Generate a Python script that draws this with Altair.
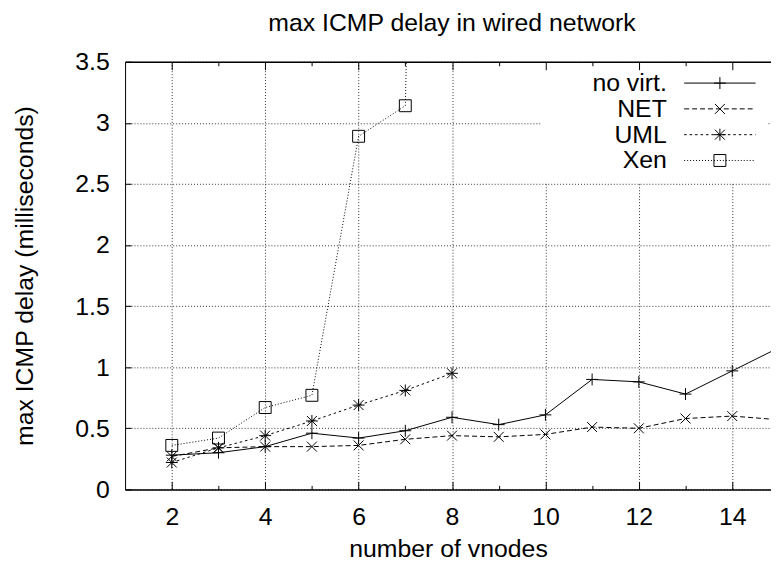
import altair as alt
import pandas as pd

# ---------------- data ----------------
series_names = ["no virt.", "NET", "UML", "Xen"]
vnodes_all = [2, 3, 4, 5, 6, 7, 8, 9, 10, 11, 12, 13, 14, 15]
no_virt = [0.28, 0.30, 0.35, 0.46, 0.42, 0.48, 0.59, 0.53, 0.61, 0.90, 0.88, 0.78, 0.97, 1.16]
net = [0.27, 0.34, 0.35, 0.35, 0.36, 0.41, 0.44, 0.43, 0.45, 0.51, 0.50, 0.58, 0.60, 0.57]
vnodes_virt = [2, 3, 4, 5, 6, 7, 8]
uml = [0.22, 0.34, 0.44, 0.56, 0.69, 0.81, 0.95]
xen = [0.36, 0.42, 0.67, 0.77, 2.89, 3.14, 20.0]

x_major_ticks = [2, 4, 6, 8, 10, 12, 14]
x_minor_ticks = [3, 5, 7, 9, 11, 13]
y_ticks = [0, 0.5, 1, 1.5, 2, 2.5, 3, 3.5]

rows = []
for name, xs, ys in [("no virt.", vnodes_all, no_virt), ("NET", vnodes_all, net),
                     ("UML", vnodes_virt, uml), ("Xen", vnodes_virt, xen)]:
    for a, b in zip(xs, ys):
        rows.append({"series": name, "vnodes": a, "delay": b})
df = pd.DataFrame(rows)

# ---------------- styles ----------------
FONT = "Liberation Sans"
FS = 25
W, H = 651, 431
PAD = {"left": 118, "top": 52, "right": 0, "bottom": 71}
XS = alt.Scale(domain=[1, 14.83], nice=False, zero=False)
YS = alt.Scale(domain=[0, 3.5], nice=False, zero=False)

dashes = {"no virt.": None, "NET": [5, 3], "UML": [2.5, 3], "Xen": [1, 2]}


def plus(cx=0):
    return f"M{cx-6},0H{cx+6}M{cx},-6V6"


def cross(cx=0):
    return f"M{cx-5},-5L{cx+5},5M{cx-5},5L{cx+5},-5"


def star(cx=0):
    return plus(cx) + cross(cx)


def square(cx=0):
    return f"M{cx-6},-6H{cx+6}V6H{cx-6}Z"


marker_fn = {"no virt.": plus, "NET": cross, "UML": star, "Xen": square}


def dash_path(dash, cx, half=36):
    if not dash:
        return f"M{cx-half},0H{cx+half}"
    d, g = dash
    out, x = [], cx - half
    while x < cx + half:
        e = min(x + d, cx + half)
        out.append(f"M{x:g},0H{e:g}")
        x = e + g
    return "".join(out)


# legend sample: line + marker drawn to the right of the (right-aligned) label
LEG_CX = 66
legend_shapes = [dash_path(dashes[n], LEG_CX) + marker_fn[n](LEG_CX) for n in series_names]

grid = dict(grid=True, gridColor="#000", gridDash=[1, 2], gridWidth=0.8)
noaxis = dict(domain=False, labels=False, grid=False, title=None)

x_main = alt.Axis(orient="bottom", offset=0, values=x_major_ticks, **grid,
                  ticks=False, tickSize=0, domain=True, domainColor="#000", domainWidth=1.5,
                  labelFont=FONT, labelFontSize=FS, labelColor="#000", labelBaseline="alphabetic",
                  labelPadding=35, labelFlush=False, labelOverlap=False, labelAngle=0,
                  title="number of vnodes", titleFont=FONT, titleFontSize=FS,
                  titleFontWeight="normal", titleColor="#000", titleBaseline="alphabetic", titleY=68)
y_main = alt.Axis(orient="left", offset=0, values=y_ticks, format="~g", **grid,
                  ticks=False, tickSize=0, domain=True, domainColor="#000", domainWidth=1,
                  labelFont=FONT, labelFontSize=FS, labelColor="#000", labelBaseline="middle",
                  labelAlign="right", labelPadding=16, labelFlush=False, labelOverlap=False,
                  title="max ICMP delay (milliseconds)", titleFont=FONT, titleFontSize=FS,
                  titleFontWeight="normal", titleColor="#000", titleBaseline="alphabetic",
                  titleAngle=270, titleX=-93, titleY=H / 2)


def tick_axis(orient, values, size):
    return alt.Axis(orient=orient, offset=-size, values=values, ticks=True, tickSize=size,
                    tickColor="#000", tickWidth=1, zindex=2, **noaxis)


x_bot_major = tick_axis("bottom", x_major_ticks, 8)
x_bot_minor = tick_axis("bottom", x_minor_ticks, 4)
x_top_major = tick_axis("top", x_major_ticks, 8)
x_top_minor = tick_axis("top", x_minor_ticks, 4)
y_left_ticks = tick_axis("left", y_ticks, 6)
x_top_domain = alt.Axis(orient="top", offset=0, values=x_major_ticks, ticks=False, tickSize=0,
                        domain=True, domainColor="#000", domainWidth=1.5, labels=False,
                        grid=False, title=None, zindex=2)

x_axes_lines = {"no virt.": x_main, "NET": x_bot_major, "UML": x_bot_minor, "Xen": x_top_domain}
y_axes_lines = {"no virt.": y_main, "NET": y_left_ticks, "UML": None, "Xen": None}
x_axes_points = {"no virt.": x_top_major, "NET": x_top_minor, "UML": None, "Xen": None}

layers = []
for name in series_names:
    sub = df[df.series == name]
    kw = dict(color="#000", strokeWidth=1, clip=True)
    if dashes[name]:
        kw["strokeDash"] = dashes[name]
    layers.append(alt.Chart(sub).mark_line(**kw).encode(
        x=alt.X("vnodes:Q", scale=XS, axis=x_axes_lines[name]),
        y=alt.Y("delay:Q", scale=YS, axis=y_axes_lines[name])))
for name in series_names:
    sub = df[df.series == name]
    layers.append(alt.Chart(sub).mark_point(
        shape=marker_fn[name](), size=4, filled=False, color="#000", strokeWidth=1,
        opacity=1, clip=True).encode(
        x=alt.X("vnodes:Q", scale=XS, axis=x_axes_points[name]),
        y=alt.Y("delay:Q", scale=YS, axis=None)))

legend = alt.Legend(orient="none", legendX=419, legendY=0, title=None,
                    labelFont=FONT, labelFontSize=FS, labelColor="#000", labelAlign="right",
                    labelOffset=0, symbolOffset=93, symbolSize=4, symbolStrokeWidth=1,
                    symbolStrokeColor="#000", symbolFillColor="transparent", symbolOpacity=1,
                    fillColor="#fff", padding=9, rowPadding=0, zindex=1)
layers.append(alt.Chart(df).mark_point(size=4, filled=False, color="#000", opacity=0,
                                       clip=True).encode(
    x=alt.X("vnodes:Q", scale=XS, axis=None),
    y=alt.Y("delay:Q", scale=YS, axis=None),
    shape=alt.Shape("series:N", scale=alt.Scale(domain=series_names, range=legend_shapes),
                    legend=legend)))

chart = alt.layer(*layers).resolve_axis(x="independent", y="independent").properties(
    width=W, height=H, padding=PAD, autosize=alt.AutoSizeParams(type="none"),
    title=alt.TitleParams("max ICMP delay in wired network", font=FONT, fontSize=FS,
                          fontWeight="normal", color="#000", anchor="middle", frame="group",
                          baseline="alphabetic", offset=12, dy=18, dx=4),
).configure_view(stroke=None)

chart.save("out.html", embed_options={"renderer": "svg", "actions": False})
